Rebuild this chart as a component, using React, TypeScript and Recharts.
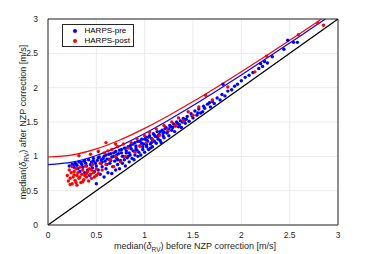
import React from "react";
import {
  ComposedChart,
  Scatter,
  Line,
  XAxis,
  YAxis,
  CartesianGrid,
  ReferenceLine,
} from "recharts";

const ticks = [0, 0.5, 1, 1.5, 2, 2.5, 3];

// HARPS-pre (blue) points: [before, after]
const preXY: number[][] = [
  [0.22, 0.86], [0.25, 0.88], [0.27, 0.84], [0.28, 0.9], [0.3, 0.87], [0.31, 0.82], [0.32, 0.92],
  [0.33, 0.78], [0.35, 0.88], [0.36, 0.84], [0.37, 0.93], [0.38, 0.76], [0.39, 0.9], [0.4, 0.86],
  [0.41, 0.8], [0.42, 0.95], [0.43, 0.72], [0.44, 0.88], [0.45, 0.92], [0.46, 0.83], [0.47, 0.97],
  [0.48, 0.78], [0.49, 0.9], [0.5, 0.86], [0.5, 0.6], [0.51, 0.94], [0.52, 0.8], [0.53, 0.99],
  [0.54, 0.74], [0.55, 0.9], [0.56, 0.85], [0.57, 0.97], [0.58, 0.7], [0.59, 0.93], [0.6, 0.82],
  [0.6, 1.02], [0.61, 0.88], [0.62, 0.76], [0.63, 0.96], [0.64, 0.9], [0.65, 1.04], [0.66, 0.75],
  [0.67, 0.85], [0.68, 1.0], [0.69, 0.93], [0.7, 0.8], [0.7, 1.07], [0.71, 0.97], [0.72, 0.88],
  [0.73, 1.04], [0.74, 0.82], [0.75, 0.94], [0.76, 1.1], [0.77, 0.9], [0.78, 1.0], [0.79, 0.95],
  [0.8, 1.12], [0.8, 0.86], [0.81, 1.05], [0.82, 0.98], [0.83, 1.14], [0.84, 0.92], [0.85, 1.02],
  [0.86, 1.17], [0.87, 0.97], [0.88, 1.08], [0.89, 0.95], [0.9, 1.2], [0.9, 1.02], [0.91, 1.12],
  [0.92, 1.09], [0.93, 1.22], [0.94, 1.06], [0.95, 1.15], [0.96, 1.02], [0.97, 1.25], [0.98, 1.1],
  [0.99, 1.18], [1.0, 1.06], [1.01, 1.28], [1.02, 1.14], [1.03, 1.22], [1.04, 1.1], [1.05, 1.3],
  [1.06, 1.18], [1.07, 1.26], [1.08, 1.14], [1.09, 1.33], [1.1, 1.22], [1.11, 1.29], [1.12, 1.19],
  [1.13, 1.36], [1.14, 1.25], [1.15, 1.32], [1.16, 1.23], [1.18, 1.38], [1.19, 1.3], [1.2, 1.27],
  [1.22, 1.42], [1.23, 1.34], [1.25, 1.3], [1.26, 1.45], [1.28, 1.38], [1.3, 1.47], [1.31, 1.36],
  [1.33, 1.5], [1.35, 1.43], [1.37, 1.52], [1.38, 1.42], [1.4, 1.55], [1.42, 1.48], [1.44, 1.58],
  [1.46, 1.51], [1.48, 1.62], [1.5, 1.56], [1.52, 1.66], [1.54, 1.6], [1.56, 1.69], [1.58, 1.63],
  [1.6, 1.65], [1.62, 1.7], [1.65, 1.76], [1.68, 1.72], [1.7, 1.8], [1.72, 1.77], [1.75, 1.85],
  [1.78, 1.82], [1.8, 1.9], [1.81, 2.05], [1.83, 1.88], [1.86, 1.95], [1.9, 1.97], [1.93, 2.02],
  [1.96, 2.05], [2.0, 2.1], [2.04, 2.15], [2.08, 2.18], [2.12, 2.22], [2.18, 2.28], [2.2, 2.35],
  [2.22, 2.31], [2.24, 2.38], [2.27, 2.36], [2.32, 2.45], [2.44, 2.56], [2.48, 2.69], [2.54, 2.66],
  [2.58, 2.66], [0.58, 1.0], [0.52, 0.98], [0.47, 0.93], [0.63, 1.03], [0.68, 1.05], [0.74, 1.09],
  [0.79, 1.12], [0.85, 1.15], [0.88, 1.18], [0.95, 1.22], [1.0, 1.25], [1.04, 1.28], [1.1, 1.31],
  [1.16, 1.36], [1.21, 1.4], [1.27, 1.43], [1.34, 1.48], [1.41, 1.52], [0.38, 0.94], [0.34, 0.91],
  [0.29, 0.89], [0.26, 0.87], [0.72, 0.95], [0.83, 1.0], [0.93, 1.0], [1.06, 1.12], [1.17, 1.2],
  [0.56, 0.92], [0.61, 0.96], [0.66, 0.99], [0.71, 1.02], [0.76, 1.05], [0.81, 1.08], [0.86, 1.11],
  [0.91, 1.15], [0.97, 1.19], [1.02, 1.24], [1.07, 1.2], [1.13, 1.28], [1.19, 1.34], [1.24, 1.36],
  [1.29, 1.42], [1.36, 1.46], [1.43, 1.54], [1.49, 1.59], [1.55, 1.63], [1.61, 1.73], [1.67, 1.78],
  [1.02, 1.17], [1.08, 1.24], [1.14, 1.3], [1.2, 1.35], [1.25, 1.4], [1.32, 1.44], [1.39, 1.5],
  [0.98, 1.14], [0.9, 1.08], [0.84, 1.05], [0.77, 1.0], [0.65, 0.94], [0.55, 0.95], [0.45, 0.87],
];

// HARPS-post (red) points
const postXY: number[][] = [
  [0.2, 0.72], [0.21, 0.64], [0.22, 0.8], [0.23, 0.68], [0.24, 0.76], [0.25, 0.6], [0.25, 0.85],
  [0.26, 0.7], [0.27, 0.78], [0.28, 0.65], [0.29, 0.82], [0.3, 0.72], [0.3, 0.58], [0.31, 0.76],
  [0.32, 0.68], [0.33, 0.84], [0.34, 0.62], [0.35, 0.74], [0.36, 0.8], [0.37, 0.66], [0.38, 0.72],
  [0.39, 0.86], [0.4, 0.7], [0.41, 0.78], [0.42, 0.64], [0.43, 0.82], [0.44, 0.74], [0.45, 0.68],
  [0.46, 0.88], [0.47, 0.76], [0.48, 0.7], [0.5, 0.82], [0.52, 0.75], [0.54, 0.9], [0.56, 0.8],
  [0.58, 1.05], [0.6, 0.88], [0.62, 1.08], [0.64, 0.95], [0.66, 1.1], [0.68, 0.85], [0.7, 1.0],
  [0.72, 1.14], [0.75, 0.92], [0.78, 1.18], [0.8, 1.0], [0.83, 1.12], [0.86, 1.2], [0.9, 1.06],
  [0.92, 1.26], [0.95, 1.15], [1.0, 1.3], [1.02, 1.2], [1.05, 1.35], [1.08, 1.25], [1.12, 1.4],
  [1.15, 1.3], [1.2, 1.45], [1.24, 1.38], [1.28, 1.5], [1.32, 1.45], [1.35, 1.56], [1.4, 1.52],
  [1.45, 1.65], [1.5, 1.6], [1.56, 1.72], [1.63, 1.89], [1.7, 1.82], [1.86, 2.01], [2.14, 2.23],
  [2.26, 2.46], [2.59, 2.77], [2.79, 2.94], [2.85, 2.91], [0.32, 1.01], [0.6, 1.2], [0.44, 1.03],
  [0.52, 1.07], [0.7, 1.18], [0.27, 0.73], [0.33, 0.7], [0.36, 0.63], [0.4, 0.75], [0.29, 0.62],
  [0.45, 0.8], [0.5, 0.72], [0.23, 0.59],
];

// fitted model curves
const preCurveX = [0, 0.25, 0.5, 0.75, 1, 1.25, 1.5, 1.75, 2, 2.25, 2.5, 2.75, 2.87];
const preCurveY = [0.88, 0.915, 1.012, 1.156, 1.332, 1.529, 1.739, 1.959, 2.185, 2.416, 2.65, 2.887, 3.0];
const postCurveX = [0, 0.25, 0.5, 0.75, 1, 1.25, 1.5, 1.75, 2, 2.25, 2.5, 2.75, 2.83];
const postCurveY = [0.99, 1.021, 1.109, 1.242, 1.407, 1.595, 1.797, 2.011, 2.232, 2.458, 2.689, 2.923, 3.0];

const preData = preXY.map(([x, y]) => ({ x, y }));
const postData = postXY.map(([x, y]) => ({ x, y }));
const preCurve = preCurveX.map((x, i) => ({ x, y: preCurveY[i] }));
const postCurve = postCurveX.map((x, i) => ({ x, y: postCurveY[i] }));
const oneToOne = [{ x: 0, y: 0 }, { x: 3, y: 3 }];

const FONT = "Liberation Sans, Arial, sans-serif";
const TXT = "#262626";

const dot = (color: string) => (p: any) => (
  <circle cx={p.cx} cy={p.cy} r={1.7} fill={color} />
);

const LegendBox = () => (
  <div
    style={{
      position: "absolute",
      left: 62,
      top: 24,
      border: "1px solid #262626",
      background: "#fff",
      width: 72,
      height: 23,
      fontFamily: FONT,
      fontSize: 8,
      color: "#000",
      boxSizing: "border-box",
      padding: "1px 0 0 10px",
      lineHeight: "10px",
      whiteSpace: "nowrap",
    }}
  >
    {[
      ["HARPS-pre", "#0000ff"],
      ["HARPS-post", "#ff0000"],
    ].map(([name, c]) => (
      <div key={name} style={{ display: "flex", alignItems: "center" }}>
        <span
          style={{ width: 3.5, height: 3.5, borderRadius: 2, background: c, display: "inline-block", marginRight: 8 }}
        />
        {name}
      </div>
    ))}
  </div>
);

const XLabel = (props: any) => {
  const { viewBox } = props;
  const cx = viewBox.x + viewBox.width / 2 + 2;
  return (
    <text x={cx} y={249} textAnchor="middle" fontFamily={FONT} fontSize={9} fill={TXT}>
      median(<tspan fontStyle="italic">δ</tspan>
      <tspan dy={3} fontSize={6.5}>RV</tspan>
      <tspan dy={-3}>) before NZP correction [m/s]</tspan>
    </text>
  );
};

const YLabel = (props: any) => {
  const { viewBox } = props;
  const cy = viewBox.y + viewBox.height / 2;
  return (
    <text
      x={26}
      y={cy}
      transform={`rotate(-90 26 ${cy})`}
      textAnchor="middle"
      fontFamily={FONT}
      fontSize={9}
      fill={TXT}
    >
      median(<tspan fontStyle="italic">δ</tspan>
      <tspan dy={3} fontSize={6.5}>RV</tspan>
      <tspan dy={-3}>) after NZP correction [m/s]</tspan>
    </text>
  );
};

export default function App() {
  return (
    <div style={{ position: "absolute", left: 0, top: 0, width: 374, height: 254, background: "#fff" }}>
      <ComposedChart
        width={374}
        height={254}
        margin={{ top: 19, right: 36, left: 8, bottom: 9 }}
      >
        <CartesianGrid stroke="#ebebeb" strokeWidth={1} />
        <XAxis
          dataKey="x"
          type="number"
          domain={[0, 3]}
          ticks={ticks}
          allowDataOverflow
          height={20}
          stroke={TXT}
          tickLine={false}
          tickMargin={1}
          tick={{ fontSize: 8.5, fill: TXT, fontFamily: FONT }}
          label={<XLabel />}
        />
        <YAxis
          dataKey="y"
          type="number"
          domain={[0, 3]}
          ticks={ticks}
          allowDataOverflow
          width={40}
          stroke={TXT}
          tickLine={false}
          tickMargin={4}
          tick={{ fontSize: 8.5, fill: TXT, fontFamily: FONT }}
          label={<YLabel />}
        />
        <ReferenceLine x={3} stroke={TXT} />
        <ReferenceLine y={3} stroke={TXT} />
        <Scatter name="HARPS-pre" data={preData} fill="#0000ff" shape={dot("#0000ff")} isAnimationActive={false} />
        <Scatter name="HARPS-post" data={postData} fill="#ff0000" shape={dot("#ff0000")} isAnimationActive={false} />
        <Line data={preCurve} dataKey="y" type="monotone" stroke="#0000ff" strokeWidth={1.2} dot={false} isAnimationActive={false} />
        <Line data={postCurve} dataKey="y" type="monotone" stroke="#ff0000" strokeWidth={1.2} dot={false} isAnimationActive={false} />
        <Line data={oneToOne} dataKey="y" type="linear" stroke="#000" strokeWidth={1.3} dot={false} isAnimationActive={false} />
      </ComposedChart>
      <LegendBox />
    </div>
  );
}
